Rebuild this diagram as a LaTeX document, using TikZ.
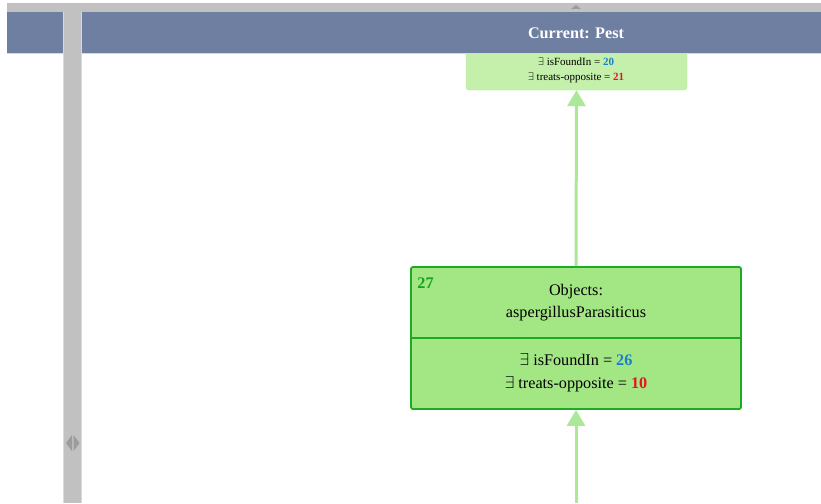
\documentclass[tikz,border=0pt]{standalone}
\usepackage{fontspec}
\setmainfont{Liberation Serif}
\usetikzlibrary{arrows.meta}
\definecolor{headblue}{HTML}{6E7FA2}
\definecolor{bargray}{HTML}{C1C1C1}
\definecolor{knobgray}{HTML}{9C9C9C}
\definecolor{nodefill}{HTML}{A3E684}
\definecolor{nodeline}{HTML}{1FAA24}
\definecolor{palefill}{HTML}{C4F0AB}
\definecolor{paleline}{HTML}{B2EA9A}
\definecolor{linkgreen}{HTML}{ABE898}
\definecolor{numblue}{HTML}{1C7DCC}
\definecolor{numred}{HTML}{E8141B}
\definecolor{idgreen}{HTML}{17A11C}
\tikzset{
  link/.style={linkgreen, line width=3pt, -{Triangle[length=16pt,width=18pt]}},
  txt/.style={inner sep=0pt, font=\fontsize{16.2}{18}\selectfont},
  smalltxt/.style={inner sep=0pt, font=\fontsize{11}{13}\selectfont},
}
\begin{document}
\begin{tikzpicture}[x=1pt, y=-1pt]
    \useasboundingbox (0,0) rectangle (821,503);

    % Parent node, cut off by the header
    \node[draw=paleline, fill=palefill, rounded corners=3pt,
          minimum width=221pt, minimum height=80pt, inner sep=0pt] (parent) at (576.5,50) {};
    \node[smalltxt] (pfound) at (576,61.5) {$\exists$ isFoundIn = \textcolor{numblue}{\textbf{20}}};
    \node[smalltxt] (ptreats) at (576,77.5) {$\exists$ treats-opposite = \textcolor{numred}{\textbf{21}}};

    % Header band and scroll bar
    \fill[bargray] (7,3) rectangle (821,12);
    \fill[knobgray] (571,9) -- (581,9) -- (576,5) -- cycle;
    \fill[headblue] (7,12) rectangle (821,53);
    \draw[white!70!headblue, line width=0.8pt] (7,53) -- (821,53);
    \node[txt, text=white] (header) at (576,33) {\textbf{Current: Pest}};

    % Splitter column
    \fill[bargray] (63,12) rectangle (82,503);
    \draw[white!40!bargray, line width=0.8pt] (63.4,12) -- (63.4,503) (81.6,12) -- (81.6,503);
    \fill[knobgray] (72,435) -- (72,451) -- (66,443) -- cycle;
    \fill[knobgray] (73.5,435) -- (73.5,451) -- (79.5,443) -- cycle;

    % Current object node
    \node[draw=nodeline, fill=nodefill, line width=1.8pt, rounded corners=2pt,
          minimum width=330pt, minimum height=142pt, inner sep=0pt] (obj) at (576,338) {};
    \draw[nodeline, line width=1.8pt] (obj.west |- 0,338) -- (obj.east |- 0,338);
    \node[txt, text=idgreen, font=\fontsize{16.2}{18}\selectfont\bfseries] (objid) at (425.5,283) {27};
    \node[txt] (objlabel) at (576,291.5) {Objects:};
    \node[txt] (objname) at (576,314) {aspergillusParasiticus};
    \node[txt] (objfound) at (576,360) {$\exists$ isFoundIn = \textcolor{numblue}{\textbf{26}}};
    \node[txt] (objtreats) at (576,384) {$\exists$ treats-opposite = \textcolor{numred}{\textbf{10}}};

    % Links
    \coordinate (child) at (576,503);
    \draw[link] (obj.north) -- (parent.south);
    \draw[link] (child) -- (obj.south);
\end{tikzpicture}
\end{document}
